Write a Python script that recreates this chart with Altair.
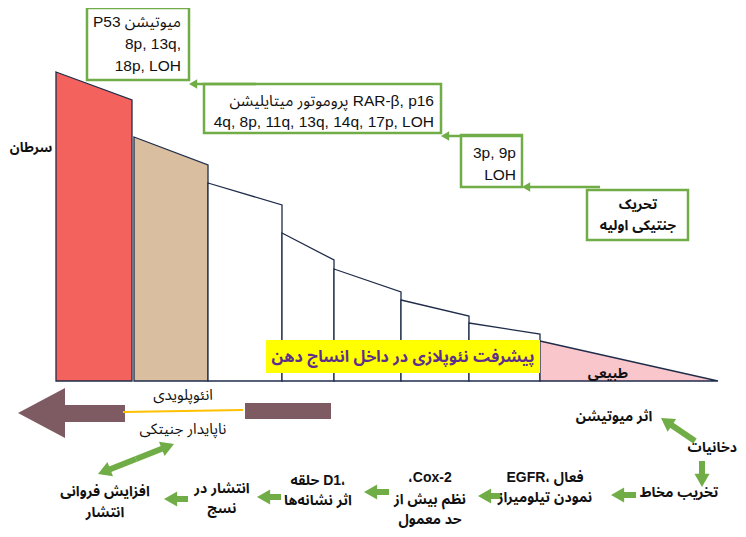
import altair as alt
import pandas as pd
import numpy as np

# ---------------- data ----------------
# progression stages (drawn as trapezoids on a common baseline)
stage_names = ["سرطان", "انئوپلویدی", "s1", "s2", "s3", "s4", "s5", "طبیعی"]
stage_x_left = [56, 134, 208, 282, 334, 401, 469, 540]
stage_x_right = [132, 208, 282, 334, 401, 469, 540, 718]
stage_top_left = [72, 137, 183, 233, 269, 300, 323, 341]
stage_top_right = [100, 165, 205, 260, 292, 316, 334, 381]
stage_base = 381

# green annotation boxes
box_x1 = [87, 204, 461, 587]
box_x2 = [189, 441, 522, 688]
box_y1 = [8, 84, 135, 190]
box_y2 = [80, 133, 187, 240]

# box texts (right aligned)
box_text = ["P53 میوتیشن", "8p, 13q,", "18p, LOH",
            "پروموتور میتایلیشن RAR-β, p16", "4q, 8p, 11q, 13q, 14q, 17p, LOH",
            "3p, 9p", "LOH"]
box_text_x = [181, 181, 181, 434, 434, 516, 516]
box_text_y = [22, 44, 66, 101, 122, 153, 175]

# thin arrows between boxes: start -> tip
thin_sx = [256, 522, 600]
thin_sy = [84, 136, 187]
thin_tx = [189, 441, 522]
thin_ty = [84, 136, 187]

# thick green arrows (bottom flow)
thick_sx = [636, 502, 389, 281, 188, 702, 695, 136, 136]
thick_sy = [495, 496, 492, 497, 499, 461, 441, 459, 459]
thick_tx = [611, 478, 364, 257, 164, 702, 661, 174, 98]
thick_ty = [495, 496, 492, 497, 499, 487, 418, 444, 474]

# bold labels (centered)
bold_text = ["تحریک", "جنتیکی اولیه", "اثر میوتیشن", "تخریب مخاط",
             "EGFR، فعال", "نمودن تیلومیراز", "،Cox-2", "نظم بیش از", "حد معمول",
             "حلقه D1،", "اثر نشانه‌ها", "انتشار در", "نسج",
             "افزایش فروانی", "انتشار", "طبیعی"]
bold_x = [638, 638, 614, 679, 545, 545, 430, 430, 430, 318, 318, 222, 222, 105, 105, 608]
bold_y = [205, 226, 417, 493, 478, 498, 478, 500, 520, 481, 501, 489, 509, 492, 513, 374]

# bold label at the right edge (right aligned)
edge_text = ["دخانیات"]
edge_x = [737]
edge_y = [448]

# normal labels (centered)
norm_text = ["انئوپلویدی", "ناپایدار جنیتکی"]
norm_x = [183, 183]
norm_y = [395, 429]

title_text = ["پیشرفت نئوپلازی در داخل انساج دهن"]
title_box = dict(x1=[266], x2=[540], y1=[340], y2=[373])
cancer_label = ["سرطان"]

# genetic-instability arrow (brown)
brown_head_x = [18, 65]
brown_head_top = [413, 388]
brown_head_bot = [413, 438]
brown_rect_x1 = [64, 245]
brown_rect_x2 = [125, 331]
brown_rect_y1 = [405, 403]
brown_rect_y2 = [422, 419]
orange_line = dict(x=[123], x2=[243], y=[412], y2=[410])

# ---------------- styles ----------------
stage_colors = ["#F4625E", "#D9BEA0", "#FFFFFF", "#FFFFFF", "#FFFFFF", "#FFFFFF", "#FFFFFF", "#F9C6CC"]
GREEN = "#70AD47"
BROWN = "#7E5B63"
OUTLINE = "#1F2D4A"
FONT = "Liberation Sans, Noto Sans Arabic, Noto Naskh Arabic, DejaVu Sans, sans-serif"

xs = alt.Scale(domain=[8, 738], nice=False, zero=False)
ys = alt.Scale(domain=[8, 529], reverse=True, nice=False, zero=False)


def X(f):
    return alt.X(f, type="quantitative", scale=xs, axis=None)


def Y(f):
    return alt.Y(f, type="quantitative", scale=ys, axis=None)


# stage area data
rows = []
for i, n in enumerate(stage_names):
    rows.append(dict(stage=n, x=stage_x_left[i], y=stage_top_left[i], yb=stage_base))
    rows.append(dict(stage=n, x=stage_x_right[i], y=stage_top_right[i], yb=stage_base))
stages_df = pd.DataFrame(rows)

stages = alt.Chart(stages_df).mark_area(stroke=OUTLINE, strokeWidth=1.3, opacity=1).encode(
    x=X("x"), y=Y("y"), y2="yb",
    color=alt.Color("stage:N", scale=alt.Scale(domain=stage_names, range=stage_colors), legend=None),
)

title_bg = alt.Chart(pd.DataFrame(title_box)).mark_rect(fill="#FFFF00").encode(
    x=X("x1"), x2="x2", y=Y("y1"), y2="y2")
title = alt.Chart(pd.DataFrame(dict(t=title_text, x=[403], y=[357]))).mark_text(
    font=FONT, fontSize=16, fontWeight="bold", color="#5D2E8C", align="center", baseline="middle"
).encode(x=X("x"), y=Y("y"), text="t")

cancer = alt.Chart(pd.DataFrame(dict(t=cancer_label, x=[31], y=[148]))).mark_text(
    font=FONT, fontSize=13.5, fontWeight="bold", color="#111", align="center", baseline="middle"
).encode(x=X("x"), y=Y("y"), text="t")

# brown arrow
bh = pd.DataFrame(dict(x=brown_head_x, y=brown_head_top, y2=brown_head_bot))
brown_head = alt.Chart(bh).mark_area(color=BROWN).encode(x=X("x"), y=Y("y"), y2="y2")
br = pd.DataFrame(dict(x1=brown_rect_x1, x2=brown_rect_x2, y1=brown_rect_y1, y2=brown_rect_y2))
brown_rects = alt.Chart(br).mark_rect(color=BROWN).encode(x=X("x1"), x2="x2", y=Y("y1"), y2="y2")
orange = alt.Chart(pd.DataFrame(orange_line)).mark_rule(color="#FFC000", strokeWidth=1.8).encode(
    x=X("x"), x2="x2", y=Y("y"), y2="y2")

# boxes
bx = pd.DataFrame(dict(x1=box_x1, x2=box_x2, y1=box_y1, y2=box_y2))
boxes = alt.Chart(bx).mark_rect(fill="white", stroke=GREEN, strokeWidth=2.5).encode(
    x=X("x1"), x2="x2", y=Y("y1"), y2="y2")

box_labels = alt.Chart(pd.DataFrame(dict(t=box_text, x=box_text_x, y=box_text_y))).mark_text(
    font=FONT, fontSize=15.5, color="#111", align="right", baseline="middle"
).encode(x=X("x"), y=Y("y"), text="t")


def arrow_layers(sx, sy, tx, ty, width, size):
    sx, sy, tx, ty = map(lambda a: np.array(a, dtype=float), (sx, sy, tx, ty))
    dx, dy = tx - sx, ty - sy
    ln = np.hypot(dx, dy)
    ux, uy = dx / ln, dy / ln
    h = 0.866 * np.sqrt(size) / 2
    cx, cy = tx - ux * h, ty - uy * h
    ang = (np.degrees(np.arctan2(dx, -dy)) + 360) % 360
    lines = pd.DataFrame(dict(x=sx, y=sy, x2=cx - ux * 1, y2=cy - uy * 1))
    heads = pd.DataFrame(dict(x=cx, y=cy, a=ang))
    l = alt.Chart(lines).mark_rule(color=GREEN, strokeWidth=width).encode(
        x=X("x"), x2="x2", y=Y("y"), y2="y2")
    p = alt.Chart(heads).mark_point(shape="triangle-up", filled=True, color=GREEN, opacity=1, size=size).encode(
        x=X("x"), y=Y("y"), angle=alt.Angle("a:Q", scale=None))
    return [l, p]


thin = arrow_layers(thin_sx, thin_sy, thin_tx, thin_ty, 2.5, 90)
thick = arrow_layers(thick_sx, thick_sy, thick_tx, thick_ty, 6, 230)

bold_labels = alt.Chart(pd.DataFrame(dict(t=bold_text, x=bold_x, y=bold_y))).mark_text(
    font=FONT, fontSize=14, fontWeight="bold", color="#111", align="center", baseline="middle"
).encode(x=X("x"), y=Y("y"), text="t")

edge_labels = alt.Chart(pd.DataFrame(dict(t=edge_text, x=edge_x, y=edge_y))).mark_text(
    font=FONT, fontSize=14, fontWeight="bold", color="#111", align="right", baseline="middle"
).encode(x=X("x"), y=Y("y"), text="t")

norm_labels = alt.Chart(pd.DataFrame(dict(t=norm_text, x=norm_x, y=norm_y))).mark_text(
    font=FONT, fontSize=15, color="#111", align="center", baseline="middle"
).encode(x=X("x"), y=Y("y"), text="t")

chart = alt.layer(
    stages, title_bg, title, cancer, brown_head, brown_rects, orange,
    boxes, *thin, box_labels, *thick, bold_labels, edge_labels, norm_labels
).properties(
    width=730, height=521, padding=0,
    autosize=alt.AutoSizeParams(type="none"),
).configure_view(stroke=None)

chart.save("out.html", embed_options={"renderer": "svg", "actions": False})
